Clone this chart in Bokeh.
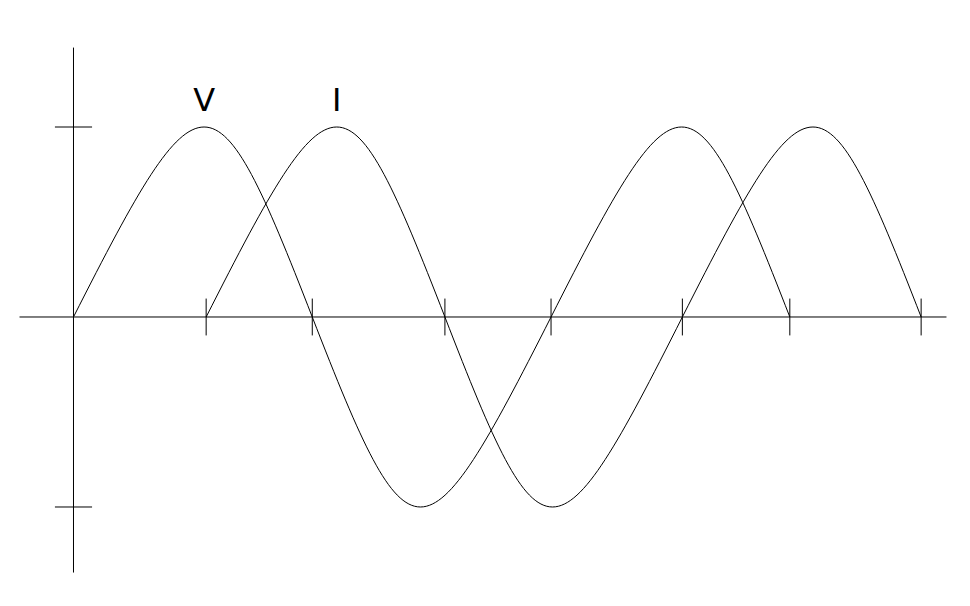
import numpy as np
from bokeh.plotting import figure
from bokeh.models import Range1d
from bokeh.embed import file_html
from bokeh.resources import INLINE
from bokeh.core.properties import value

# ---------------- data ----------------
series_names = ["V", "I"]
v_zeros = [0, 180, 360, 540]        # zero crossings of V (degrees)
i_zeros = [100, 280, 459, 639]      # zero crossings of I (degrees)
amplitude = 1.0                     # crest value of both waves
y_ticks = [1, -1]                   # marks on the vertical axis

# ---------------- layout / style constants ----------------
X_RANGE = (-55.03, 664.15)
Y_RANGE = (-1.4395, 1.6658)
H_AXIS = (-40.7, 658.1)             # extent of horizontal axis
V_AXIS = (-1.345, 1.418)            # extent of vertical axis
Y_TICK_HALF = 14.0                  # half-length of y tick (deg)
X_TICK_HALF = 0.097                 # half-length of x tick (amplitude)
RISE_HANDLE = 0.5375                # bezier handle (fraction of half period) at a rising zero
FALL_HANDLE = 0.4125                # bezier handle at a falling zero
LABEL_OFFSET = 0.14                 # label baseline above the crest
FONT = "DejaVu Sans"

p = figure(width=954, height=590,
           x_range=Range1d(*X_RANGE), y_range=Range1d(*Y_RANGE),
           x_axis_type=None, y_axis_type=None,
           output_backend="svg", toolbar_location=None,
           min_border=0, outline_line_color=None,
           background_fill_color="white", border_fill_color="white")
p.grid.visible = False

# axes
p.segment(x0=[H_AXIS[0]], y0=[0], x1=[H_AXIS[1]], y1=[0], line_color="black", line_width=1)
p.segment(x0=[0], y0=[V_AXIS[0]], x1=[0], y1=[V_AXIS[1]], line_color="black", line_width=1)

# y ticks
p.segment(x0=[-Y_TICK_HALF] * len(y_ticks), y0=y_ticks,
          x1=[Y_TICK_HALF] * len(y_ticks), y1=y_ticks,
          line_color="black", line_width=1)

# x ticks at every zero crossing except the origin
x_ticks = sorted(set(v_zeros[1:] + i_zeros))
p.segment(x0=x_ticks, y0=[-X_TICK_HALF] * len(x_ticks),
          x1=x_ticks, y1=[X_TICK_HALF] * len(x_ticks),
          line_color="black", line_width=1)


def humps(zeros, amp):
    d = dict(x0=[], y0=[], x1=[], y1=[], cx0=[], cy0=[], cx1=[], cy1=[])
    crests = []
    sign = 1
    for a, b in zip(zeros[:-1], zeros[1:]):
        L = b - a
        h0, h1 = (RISE_HANDLE, FALL_HANDLE) if sign > 0 else (FALL_HANDLE, RISE_HANDLE)
        c0 = a + h0 * L
        c1 = b - h1 * L
        hy = sign * amp * 4.0 / 3.0
        d["x0"].append(a); d["y0"].append(0)
        d["x1"].append(b); d["y1"].append(0)
        d["cx0"].append(c0); d["cy0"].append(hy)
        d["cx1"].append(c1); d["cy1"].append(hy)
        crests.append((0.125 * a + 0.375 * c0 + 0.375 * c1 + 0.125 * b, sign * amp))
        sign = -sign
    return d, crests


label_x, label_y = [], []
for name, zeros in zip(series_names, [v_zeros, i_zeros]):
    d, crests = humps(zeros, amplitude)
    p.bezier(source=d, x0="x0", y0="y0", x1="x1", y1="y1",
             cx0="cx0", cy0="cy0", cx1="cx1", cy1="cy1",
             line_color="black", line_width=1)
    label_x.append(crests[0][0])
    label_y.append(crests[0][1] + LABEL_OFFSET)

p.text(x=label_x, y=label_y, text=series_names,
       text_font=value(FONT), text_font_size="32px",
       text_align="center", text_baseline="alphabetic",
       text_color="black")

open("out.html", "w").write(file_html(p, INLINE))
